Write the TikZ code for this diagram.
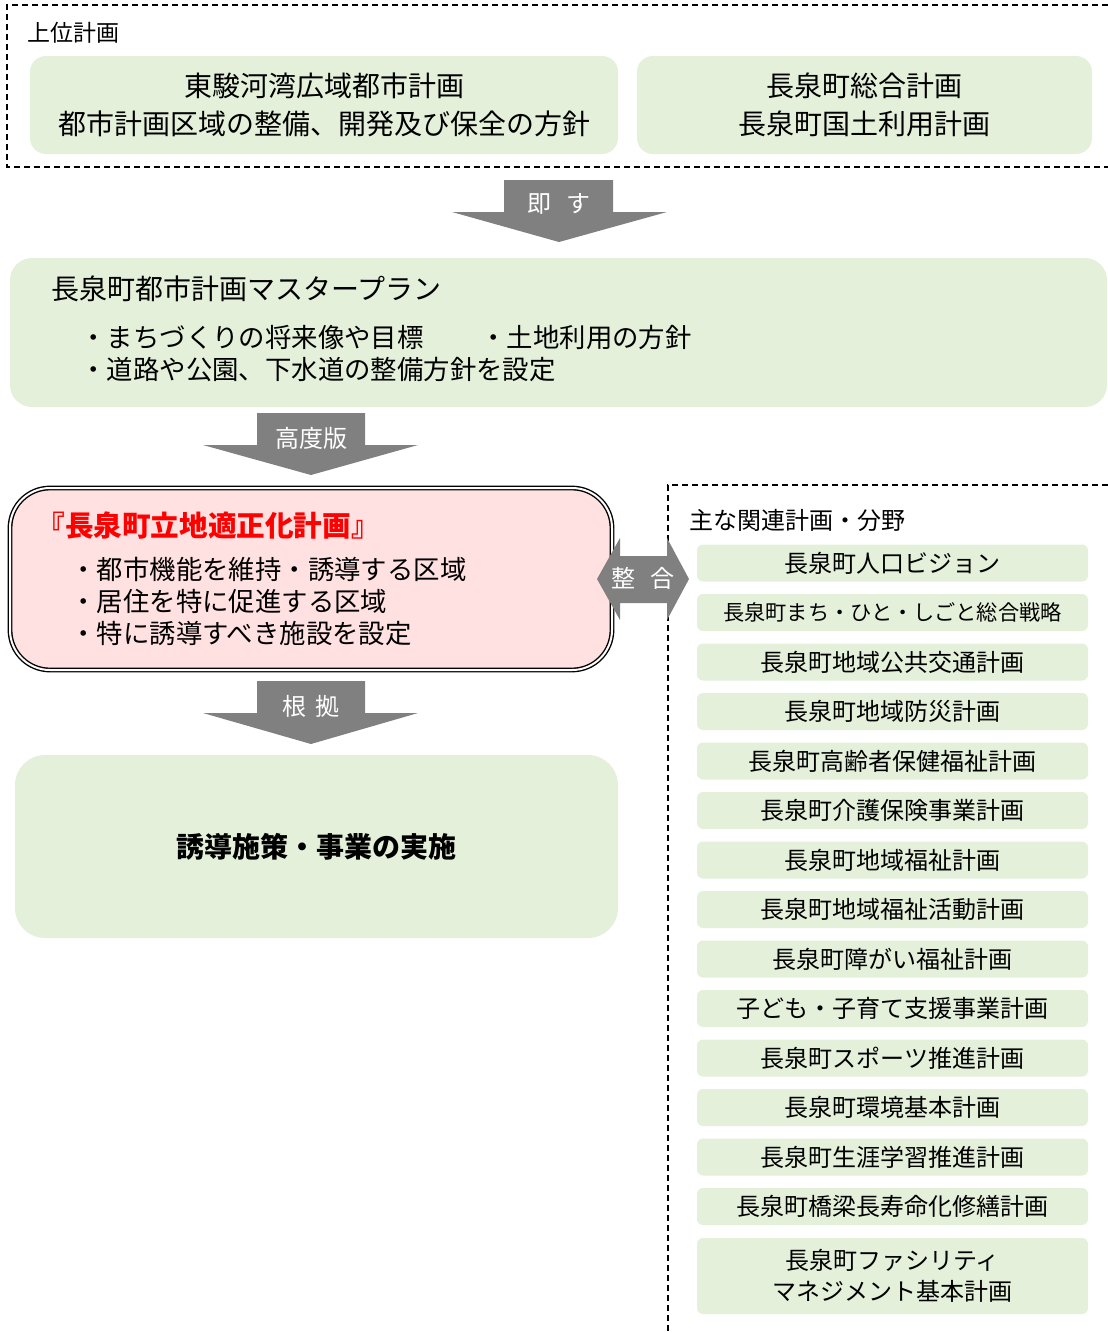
\documentclass[tikz,border=0pt]{standalone}
\usepackage{fontspec}
\setmainfont{Noto Sans CJK JP}
\usepackage{tikz}

\definecolor{planGreen}{HTML}{E4F0DA}
\definecolor{planPink}{HTML}{FFE1E1}
\definecolor{arrowGray}{HTML}{808080}

\tikzset{
  greenbox/.style={fill=planGreen, rounded corners=8pt, inner sep=0pt},
  listbox/.style={fill=planGreen, rounded corners=3pt, inner sep=0pt,
    minimum width=195.5pt, minimum height=18.5pt, font=\fontsize{12}{15}\selectfont},
  plaintext/.style={anchor=west, inner sep=0pt},
  blockarrow/.style={fill=arrowGray},
  arrowtext/.style={text=white, inner sep=0pt, font=\fontsize{12}{14}\selectfont},
  frameline/.style={dashed, dash pattern=on 3pt off 2pt, line width=0.7pt},
}

\begin{document}
\begin{tikzpicture}[x=0.5pt,y=-0.5pt]
  \useasboundingbox (0,0) rectangle (1108,1333);

  % upper plans
  \draw[frameline] (1108,5) -- (7,5) -- (7,167) -- (1108,167);
  \node[plaintext, font=\fontsize{11.5}{14}\selectfont] (upperlbl) at (27,33) {上位計画};
  \node[greenbox, minimum width=294pt, minimum height=49pt, align=center,
    font=\fontsize{14}{19}\selectfont] (prefplan) at (324,105)
    {\raisebox{-1pt}{東駿河湾広域都市計画}\\\raisebox{-1pt}{都市計画区域の整備、開発及び保全の方針}};
  \node[greenbox, minimum width=227.5pt, minimum height=49pt, align=center,
    font=\fontsize{14}{19}\selectfont] (townplan) at (864.5,105)
    {\raisebox{-1pt}{長泉町総合計画}\\\raisebox{-1pt}{長泉町国土利用計画}};

  \fill[blockarrow] (504,180) -- (613,180) -- (613,212) -- (667,212) -- (559,242)
    -- (452,212) -- (504,212) -- cycle;
  \node[arrowtext] (sokusu) at (559,204) {即\hspace{0.6em}す};

  % master plan
  \node[greenbox, rounded corners=11pt, minimum width=548.5pt, minimum height=74.5pt]
    (masterplan) at (558.5,332.5) {};
  \node[plaintext, font=\fontsize{14}{17}\selectfont] (mptitle) at (51,289)
    {長泉町都市計画マスタープラン};
  \node[plaintext, font=\fontsize{13.2}{16}\selectfont] (mpitemA) at (80,337)
    {・まちづくりの将来像や目標};
  \node[plaintext, font=\fontsize{13.2}{16}\selectfont] (mpitemB) at (480,337)
    {・土地利用の方針};
  \node[plaintext, font=\fontsize{13.2}{16}\selectfont] (mpitemC) at (80,369)
    {・道路や公園、下水道の整備方針を設定};

  \fill[blockarrow] (257,413) -- (365,413) -- (365,445) -- (418,445) -- (311,475)
    -- (203,445) -- (257,445) -- cycle;
  \node[arrowtext] (koudo) at (311,438) {高度版};

  % location plan
  \node[draw, fill=planPink, double=white, double distance=1pt, line width=0.7pt,
    rounded corners=20pt, minimum width=301pt, minimum height=91pt]
    (locplan) at (311,579) {};
  \node[plaintext, text=red, font=\bfseries\fontsize{14.3}{17}\selectfont] (loctitle)
    at (36,526) {『長泉町立地適正化計画』};
  \node[plaintext, font=\fontsize{13.2}{16}\selectfont] (locitemA) at (70,569)
    {・都市機能を維持・誘導する区域};
  \node[plaintext, font=\fontsize{13.2}{16}\selectfont] (locitemB) at (70,601)
    {・居住を特に促進する区域};
  \node[plaintext, font=\fontsize{13.2}{16}\selectfont] (locitemC) at (70,633)
    {・特に誘導すべき施設を設定};

  \fill[blockarrow] (257,681) -- (365,681) -- (365,713) -- (418,713) -- (311,744)
    -- (203,713) -- (257,713) -- cycle;
  \node[arrowtext] (konkyo) at (311,706) {根\hspace{0.4em}拠};

  \node[greenbox, rounded corners=15pt, minimum width=301.5pt, minimum height=91.5pt,
    font=\bfseries\fontsize{14}{17}\selectfont] (measures) at (316.5,846.5)
    {誘導施策・事業の実施};

  % related plans
  \draw[frameline] (1108,485) -- (668,485) -- (668,1333);
  \node[plaintext, font=\fontsize{12}{14}\selectfont] (rellbl) at (689,520)
    {主な関連計画・分野};
  \foreach \txt [count=\i from 0] in {長泉町人口ビジョン,
      {\fontsize{10.6}{12}\selectfont 長泉町まち・ひと・しごと総合戦略},
      長泉町地域公共交通計画, 長泉町地域防災計画, 長泉町高齢者保健福祉計画,
      長泉町介護保険事業計画, 長泉町地域福祉計画, 長泉町地域福祉活動計画,
      長泉町障がい福祉計画, 子ども・子育て支援事業計画, 長泉町スポーツ推進計画,
      長泉町環境基本計画, 長泉町生涯学習推進計画, 長泉町橋梁長寿命化修繕計画}
    \node[listbox] (rel\i) at (892.5,563+49.5*\i) {\txt};
  \node[listbox, minimum height=38pt, align=center,
    font=\fontsize{12}{15.5}\selectfont] (rel14) at (892.5,1276)
    {長泉町ファシリティ\\マネジメント基本計画};

  \fill[blockarrow] (597,579) -- (620,538) -- (620,556) -- (667,556) -- (667,538)
    -- (689,579) -- (667,620) -- (667,603) -- (620,603) -- (620,620) -- cycle;
  \node[arrowtext] (seigou) at (643,578) {整\hspace{0.6em}合};
\end{tikzpicture}
\end{document}
